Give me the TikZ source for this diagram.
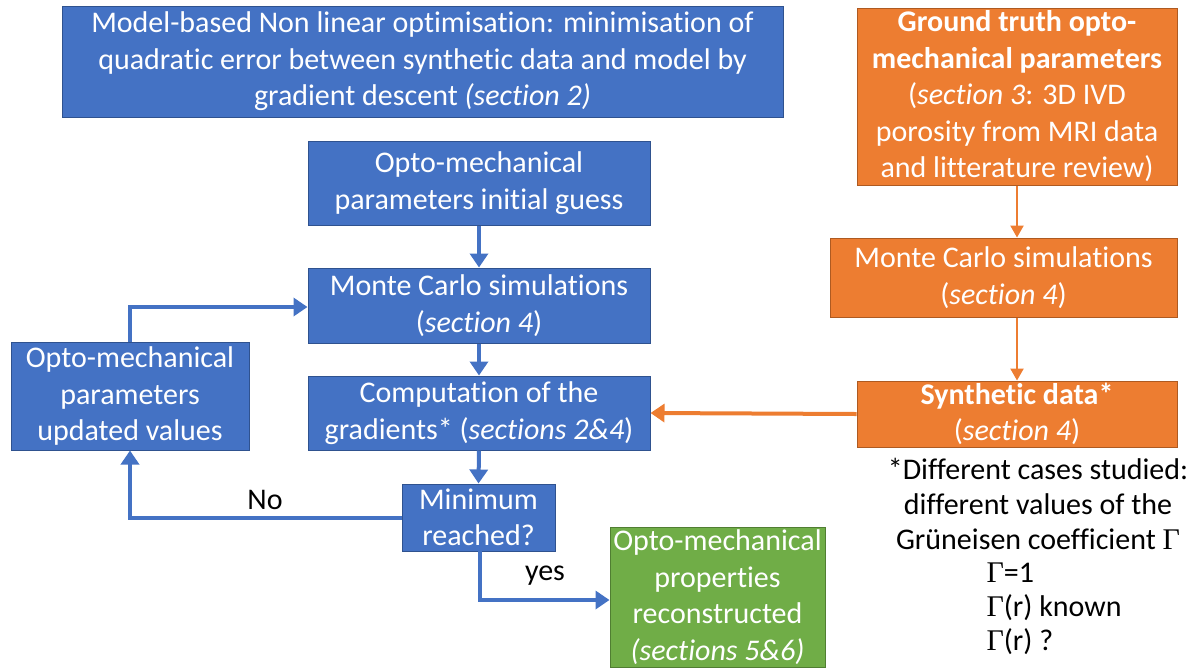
\documentclass[tikz,border=0pt]{standalone}
\usepackage{fontspec}
\setmainfont{Carlito}[Ligatures={NoCommon}]
\newfontfamily\gamfont{Liberation Serif}
\newcommand{\Gam}{{\gamfont Γ}}
\usetikzlibrary{arrows.meta}
\definecolor{bfill}{HTML}{4472C4}
\definecolor{bdraw}{HTML}{2F528F}
\definecolor{ofill}{HTML}{ED7D31}
\definecolor{odraw}{HTML}{AE5A21}
\definecolor{gfill}{HTML}{70AD47}
\definecolor{gdraw}{HTML}{507E32}
\tikzset{
  box/.style={draw, line width=1pt, text=white, align=center, inner sep=0pt,
    font=\fontsize{30}{36.5}\selectfont},
  bluebox/.style={box, fill=bfill, draw=bdraw},
  orangebox/.style={box, fill=ofill, draw=odraw},
  greenbox/.style={box, fill=gfill, draw=gdraw},
  barrow/.style={draw=bfill, line width=4pt, -{Triangle[length=14pt,width=18pt]}},
  oarrow/.style={draw=ofill, line width=2.2pt, -{Triangle[length=12pt,width=13pt]}},
  oarrowthick/.style={draw=ofill, line width=4pt, -{Triangle[length=14pt,width=18pt]}},
  lbl/.style={font=\fontsize{30}{35}\selectfont, text=black},
}
\begin{document}
\begin{tikzpicture}[x=1pt,y=-1pt]
\useasboundingbox (0,0) rectangle (1198,670);
\node[bluebox, minimum width=721pt, minimum height=111pt] (top) at (422.5,61.5)
  {Model-based Non linear optimisation: minimisation of\\quadratic error between synthetic data and model by\\gradient descent \textit{(section 2)}};
\node[orangebox, minimum width=320pt, minimum height=177pt] (gt) at (1017,96.5)
  {\textbf{Ground truth opto-}\\\textbf{mechanical parameters}\\(\textit{section 3}: 3D IVD\\porosity from MRI data\\and litterature review)};
\node[bluebox, minimum width=342pt, minimum height=84pt] (init) at (479,183)
  {Opto-mechanical\\parameters initial guess};
\node[bluebox, minimum width=342pt, minimum height=75pt] (mc) at (479,305.5)
  {Monte Carlo simulations\\(\textit{section 4})};
\node[bluebox, minimum width=238pt, minimum height=108pt] (upd) at (130,396)
  {Opto-mechanical\\parameters\\updated values};
\node[bluebox, minimum width=342pt, minimum height=74pt] (comp) at (479,413)
  {Computation of the\\gradients* (\textit{sections 2\&4})};
\node[bluebox, minimum width=153pt, minimum height=67pt] (minr) at (478.5,517.5)
  {Minimum\\reached?};
\node[greenbox, minimum width=215pt, minimum height=140pt] (res) at (717.5,597)
  {Opto-mechanical\\properties\\reconstructed\\\textit{(sections 5\&6)}};
\node[orangebox, minimum width=347pt, minimum height=79pt] (omc) at (1003.5,277.5)
  {Monte Carlo simulations\\(\textit{section 4})};
\node[orangebox, minimum width=320pt, minimum height=66pt] (syn) at (1017,414)
  {\textbf{Synthetic data*}\\(\textit{section 4})};
\node[lbl, align=center, anchor=north] (note) at (1038,455)
  {*Different cases studied:\\different values of the\\Grüneisen coefficient \Gam};
\node[lbl, align=left, anchor=north west] (cases) at (983,559)
  {\Gam=1\\[-1pt]\Gam(r) known\\[-1pt]\Gam(r) ?};
% blue arrows
\draw[barrow] (init.south) -- (mc.north);
\draw[barrow] (mc.south) -- (comp.north);
\draw[barrow] (comp.south) -- (minr.north);
\coordinate (nocorner) at (upd.south |- minr.west);
\draw[barrow] (minr.west) -- (nocorner) -- (upd.south);
\coordinate (updtop) at (upd.north |- 0,307);
\draw[barrow] (upd.north) -- (updtop) -- (mc.west |- updtop);
\coordinate (yescorner) at (480,600);
\draw[barrow] (480,551) -- (yescorner) -- (res.west |- yescorner);
\node[lbl] (no) at (265,500) {No};
\node[lbl] (yes) at (545,576) {yes};
% orange arrows
\draw[oarrow] (gt.south) -- (gt.south |- omc.north);
\draw[oarrow] (syn.north |- omc.south) -- (syn.north);
\draw[oarrowthick] (syn.west) -- (comp.east);
\end{tikzpicture}
\end{document}
